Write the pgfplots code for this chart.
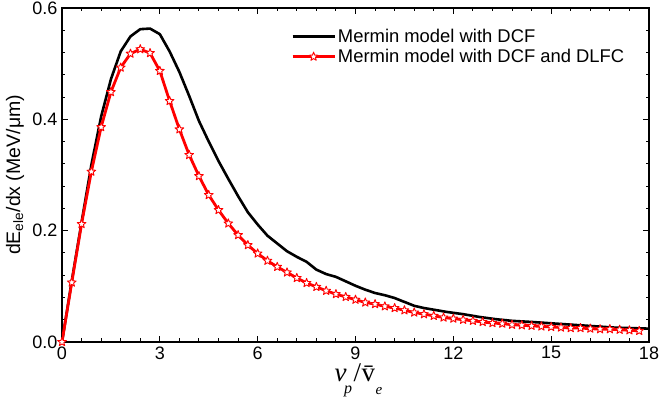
\documentclass[border=0pt]{standalone}
\usepackage{pgfplots}
\pgfplotsset{compat=1.18}
\usepackage{pgfplotstable}
\usepackage{fontspec}
\setmainfont{Liberation Sans}
\newfontfamily\tnr{Liberation Serif}
\pgfdeclareplotmark{fstar}{%
  \pgfpathmoveto{\pgfpointpolar{90}{\pgfplotmarksize}}%
  \pgfpathlineto{\pgfpointpolar{126}{0.42*\pgfplotmarksize}}%
  \pgfpathlineto{\pgfpointpolar{162}{\pgfplotmarksize}}%
  \pgfpathlineto{\pgfpointpolar{198}{0.42*\pgfplotmarksize}}%
  \pgfpathlineto{\pgfpointpolar{234}{\pgfplotmarksize}}%
  \pgfpathlineto{\pgfpointpolar{270}{0.42*\pgfplotmarksize}}%
  \pgfpathlineto{\pgfpointpolar{306}{\pgfplotmarksize}}%
  \pgfpathlineto{\pgfpointpolar{342}{0.42*\pgfplotmarksize}}%
  \pgfpathlineto{\pgfpointpolar{18}{\pgfplotmarksize}}%
  \pgfpathlineto{\pgfpointpolar{54}{0.42*\pgfplotmarksize}}%
  \pgfpathclose
  \pgfusepathqfillstroke}
\pgfplotstableread{
x y
0 0
0.3 0.110
0.6 0.215
0.9 0.318
1.2 0.405
1.5 0.472
1.8 0.522
2.1 0.549
2.4 0.562
2.7 0.563
3.0 0.553
3.3 0.522
3.6 0.485
3.9 0.442
4.2 0.397
4.5 0.360
4.8 0.325
5.1 0.293
5.4 0.262
5.7 0.233
6.0 0.211
6.3 0.191
6.6 0.177
6.9 0.163
7.2 0.153
7.5 0.144
7.8 0.130
8.1 0.122
8.4 0.117
8.7 0.109
9.0 0.101
9.3 0.094
9.6 0.088
9.9 0.084
10.2 0.079
10.5 0.072
10.8 0.065
11.1 0.061
11.4 0.058
11.8 0.054
12.3 0.050
12.8 0.045
13.3 0.041
13.8 0.038
14.4 0.036
14.9 0.034
15.4 0.032
15.9 0.030
16.4 0.028
16.9 0.026
17.4 0.025
18.0 0.024
}\blackdata
\pgfplotstableread{
x y
0 0
0.3 0.107
0.6 0.212
0.9 0.306
1.2 0.386
1.5 0.449
1.8 0.493
2.1 0.518
2.4 0.526
2.7 0.519
3.0 0.487
3.3 0.433
3.6 0.382
3.9 0.336
4.2 0.298
4.5 0.264
4.8 0.237
5.1 0.213
5.4 0.192
5.7 0.174
6.0 0.159
6.3 0.146
6.6 0.135
6.9 0.125
7.2 0.115
7.5 0.106
7.8 0.099
8.1 0.092
8.4 0.086
8.7 0.081
9.0 0.076
9.3 0.071
9.6 0.068
9.9 0.064
10.2 0.061
10.5 0.057
10.8 0.053
11.1 0.050
11.4 0.047
11.7 0.044
12.0 0.042
12.3 0.040
12.6 0.038
12.9 0.036
13.2 0.034
13.5 0.033
13.8 0.031
14.1 0.030
14.4 0.029
14.7 0.028
15.0 0.027
15.3 0.026
15.6 0.025
15.9 0.025
16.2 0.024
16.5 0.023
16.8 0.023
17.1 0.022
17.4 0.021
17.7 0.020
}\reddata
\begin{document}
\begin{tikzpicture}
\begin{axis}[
  width=587pt, height=334pt, scale only axis,
  xmin=0, xmax=18, ymin=0, ymax=0.6,
  xtick={0,3,...,18}, ytick={0,0.2,0.4,0.6},
  minor x tick num=4, minor y tick num=4,
  tick align=inside, major tick length=6pt, minor tick length=3.5pt,
  axis line style={line width=1.2pt},
  every tick/.style={black, line width=1pt},
  /pgf/number format/assume math mode=true,
  every tick label/.append style={font=\fontsize{18}{18}\selectfont},
  xticklabel style={yshift=-1pt},
  yticklabel style={xshift=-1pt,/pgf/number format/fixed,/pgf/number format/fixed zerofill,/pgf/number format/precision=1},
  xlabel={\tnr\fontsize{27}{27}\selectfont\itshape v\kern-2.5pt\raisebox{-12pt}{\fontsize{16}{16}\selectfont p}\kern1.5pt\upshape/\kern0.5pt\={v}\kern0.5pt\raisebox{-13pt}{\fontsize{15}{15}\selectfont\itshape e}},
  xlabel style={at={(axis description cs:0.5,0)}, anchor=base, yshift=-40pt, xshift=3pt, inner sep=0pt},
  ylabel={dE\textsubscript{ele}/dx (MeV/μm)},
  ylabel style={font=\fontsize{19.5}{19.5}\selectfont, at={(axis description cs:-0.0801,0.5)}, anchor=center},
  legend style={draw=none, fill=none, at={(0.385,0.95)}, anchor=north west,
    font=\fontsize{18.4}{18.4}\selectfont, row sep=1.5pt},
  legend cell align=left,
  legend image code/.code={\draw[mark repeat=2,mark phase=2,#1] plot coordinates {(0pt,0pt) (21pt,0pt) (42pt,0pt)};},
]
\coordinate (ll) at (rel axis cs:0,0);
\coordinate (ur) at (rel axis cs:1,1);
\addplot[black, line width=2.6pt, line join=round] table[x=x,y=y] {\blackdata};
\addlegendentry{Mermin model with DCF}
\addplot[red, line width=2.8pt, line join=round, mark=fstar, mark size=4.6pt,
  mark options={fill=white, draw=red, line width=0.9pt, solid}] table[x=x,y=y] {\reddata};
\addlegendentry{Mermin model with DCF and DLFC}
\end{axis}
\pgfresetboundingbox
\path[use as bounding box] ([shift={(-62pt,-61pt)}]ll) rectangle ([shift={(10pt,8pt)}]ur);
\end{tikzpicture}
\end{document}
